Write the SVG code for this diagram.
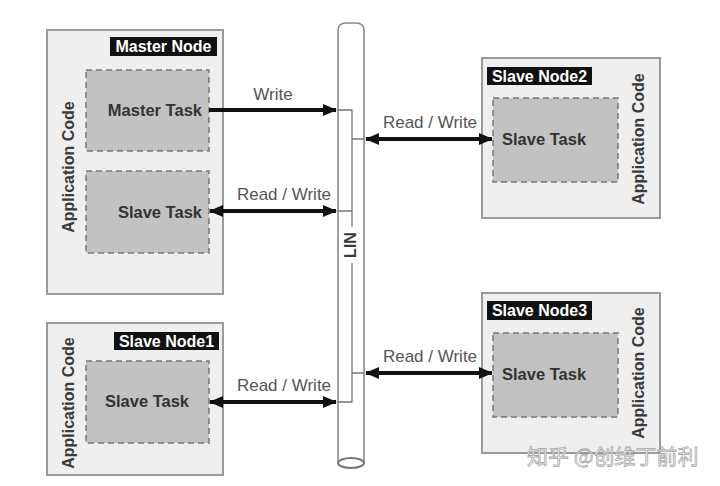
<svg xmlns="http://www.w3.org/2000/svg" width="720" height="486" viewBox="0 0 720 486">
<defs>
<style>
.node{fill:#efefef;stroke:#9a9a9a;stroke-width:2}
.task{fill:#c2c2c2;stroke:#7a7a7a;stroke-width:1.5;stroke-dasharray:6 4}
.tag{fill:#111}
.tagt{font-family:"Liberation Sans",Arial,sans-serif;font-weight:bold;font-size:16px;fill:#fff;text-anchor:middle}
.taskt{font-family:"Liberation Sans",Arial,sans-serif;font-weight:bold;font-size:16.5px;fill:#333}
.app{font-family:"Liberation Sans",Arial,sans-serif;font-weight:bold;font-size:16px;fill:#3a3a3a;text-anchor:middle}
.lbl{font-family:"Liberation Sans",Arial,sans-serif;font-size:17px;fill:#555;text-anchor:middle}
.arr{stroke:#111;stroke-width:4;fill:none}
.thin{stroke:#777;stroke-width:1.3;fill:none}
.bus{stroke:#8a8a8a;stroke-width:1.6;fill:#fff}
</style>
<marker id="ah" viewBox="0 0 14 12" refX="13" refY="6" markerWidth="14" markerHeight="12" markerUnits="userSpaceOnUse" orient="auto-start-reverse">
<path d="M0,0 L14,6 L0,12 Z" fill="#111"/>
</marker>
</defs>
<rect width="720" height="486" fill="#fff"/>

<g id="lin-bus">
<path class="bus" d="M338,463 L338,31 Q338,23 346,23 L356,23 Q364,23 364,31 L364,463"/>
<ellipse cx="351" cy="463" rx="13" ry="5" fill="#fff" stroke="#777" stroke-width="2"/>
<path class="thin" d="M338,110 H352 V402 H338 M338,211 H352 M352,139 H364 M352,373 H364"/>
<rect x="342" y="227" width="17" height="36" fill="#fff"/>
<text class="app" font-size="15" transform="translate(356,245) rotate(-90)">LIN</text>
</g>

<g id="master-node">
<rect class="node" x="47" y="30" width="176" height="264"/>
<rect class="tag" x="110" y="37" width="107" height="19"/>
<text class="tagt" x="163.5" y="52">Master Node</text>
<text class="app" transform="translate(74,167) rotate(-90)">Application Code</text>
<g id="master-task">
<rect class="task" x="86" y="70" width="123" height="81"/>
<text class="taskt" x="202" y="116" text-anchor="end">Master Task</text>
</g>
<g id="master-slave-task">
<rect class="task" x="86" y="171" width="123" height="82"/>
<text class="taskt" x="202" y="218" text-anchor="end">Slave Task</text>
</g>
</g>

<g id="slave-node1">
<rect class="node" x="47" y="323" width="176" height="152"/>
<rect class="tag" x="114" y="332" width="105" height="18"/>
<text class="tagt" x="166.5" y="347">Slave Node1</text>
<text class="app" transform="translate(74,403) rotate(-90)">Application Code</text>
<rect class="task" x="86" y="361" width="123" height="82"/>
<text class="taskt" x="147" y="407" text-anchor="middle">Slave Task</text>
</g>

<g id="slave-node2">
<rect class="node" x="482" y="58" width="178" height="160"/>
<rect class="tag" x="487" y="67" width="105" height="18"/>
<text class="tagt" x="539.5" y="82">Slave Node2</text>
<text class="app" transform="translate(644,139) rotate(-90)">Application Code</text>
<rect class="task" x="493" y="98" width="125" height="84"/>
<text class="taskt" x="502" y="145">Slave Task</text>
</g>

<g id="slave-node3">
<rect class="node" x="482" y="293" width="178" height="160"/>
<rect class="tag" x="487" y="301" width="105" height="19"/>
<text class="tagt" x="539.5" y="316">Slave Node3</text>
<text class="app" transform="translate(644,373) rotate(-90)">Application Code</text>
<rect class="task" x="493" y="333" width="125" height="84"/>
<text class="taskt" x="502" y="380">Slave Task</text>
</g>

<g id="connectors">
<line class="arr" x1="209" y1="110" x2="336" y2="110" marker-end="url(#ah)"/>
<line class="arr" x1="210" y1="211" x2="336" y2="211" marker-start="url(#ah)" marker-end="url(#ah)"/>
<line class="arr" x1="210" y1="402" x2="336" y2="402" marker-start="url(#ah)" marker-end="url(#ah)"/>
<line class="arr" x1="366" y1="139" x2="492" y2="139" marker-start="url(#ah)" marker-end="url(#ah)"/>
<line class="arr" x1="366" y1="373" x2="492" y2="373" marker-start="url(#ah)" marker-end="url(#ah)"/>
<text class="lbl" x="273" y="100">Write</text>
<text class="lbl" x="284" y="200">Read / Write</text>
<text class="lbl" x="284" y="391">Read / Write</text>
<text class="lbl" x="430" y="128">Read / Write</text>
<text class="lbl" x="430" y="362">Read / Write</text>
</g>

<text x="527" y="464" font-family="'Noto Sans CJK SC',sans-serif" font-size="21" fill="#fff" stroke="#a8a8a8" stroke-width="0.8">知乎 @创维丁前利</text>
</svg>
